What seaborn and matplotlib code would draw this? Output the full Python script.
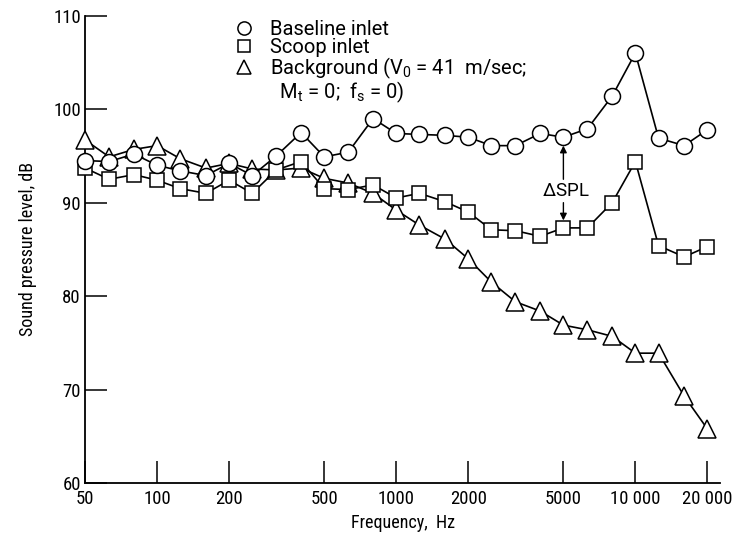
import numpy as np
import pandas as pd
import matplotlib
matplotlib.use('Agg')
import matplotlib.pyplot as plt
import seaborn as sns
from matplotlib.lines import Line2D
from matplotlib import font_manager

# one-third octave band centres, Hz
freq = [50, 63, 80, 100, 125, 160, 200, 250, 315, 400, 500, 630, 800, 1000,
        1250, 1600, 2000, 2500, 3150, 4000, 5000, 6300, 8000, 10000, 12500, 16000, 20000]

baseline = [94.5, 94.4, 95.2, 94.0, 93.4, 92.9, 94.2, 92.9, 95.0, 97.5, 94.9, 95.4, 99.0, 97.4,
            97.3, 97.2, 97.0, 96.1, 96.1, 97.4, 97.0, 97.9, 101.4, 106.0, 96.9, 96.1, 97.8]
scoop = [93.7, 92.5, 93.0, 92.4, 91.5, 91.0, 92.4, 91.0, 93.5, 94.4, 91.5, 91.4, 91.9, 90.5,
         91.0, 90.1, 89.0, 87.1, 87.0, 86.4, 87.3, 87.3, 90.0, 94.4, 85.4, 84.2, 85.3]
background = [96.7, 94.9, 95.7, 96.1, 94.7, 93.7, 94.2, 93.6, 93.5, 93.7, 92.6, 92.1, 91.0, 89.2,
              87.6, 86.1, 84.0, 81.5, 79.4, 78.4, 76.9, 76.4, 75.7, 73.9, 73.9, 69.3, 65.8]

xticks = [50, 100, 200, 500, 1000, 2000, 5000, 10000, 20000]
xticklabels = ['50', '100', '200', '500', '1000', '2000', '5000', '10 000', '20 000']
yticks = [60, 70, 80, 90, 100, 110]

df = pd.DataFrame({'freq': freq, 'baseline': baseline, 'scoop': scoop, 'background': background})

sns.set_style('ticks')

# pick a narrow sans if one is there
names = {f.name for f in font_manager.fontManager.ttflist}
fam = 'DejaVu Sans'
for cand in ['Roboto Condensed', 'Liberation Sans Narrow', 'Open Sans Condensed', 'Noto Sans Condensed']:
    if cand in names:
        fam = cand
        break
legfam = 'Roboto' if 'Roboto' in names else 'DejaVu Sans'
plt.rcParams['font.family'] = [fam, 'DejaVu Sans']
plt.rcParams['mathtext.fontset'] = 'custom'
plt.rcParams['mathtext.rm'] = legfam
plt.rcParams['mathtext.it'] = legfam
plt.rcParams['text.color'] = 'black'
plt.rcParams['axes.labelcolor'] = 'black'

fs = 13.5 if fam != 'DejaVu Sans' else 11.5

fig = plt.figure(figsize=(7.34, 5.41), dpi=100)
ax = fig.add_axes([0.116, 0.107, 0.865, 0.864])

mk = dict(color='black', linewidth=1.2, markerfacecolor='white', markeredgecolor='black',
          markeredgewidth=1.1, clip_on=False, zorder=3)
sns.lineplot(data=df, x='freq', y='background', marker='^', markersize=12.5, ax=ax, **mk)
sns.lineplot(data=df, x='freq', y='scoop', marker='s', markersize=10.5, ax=ax, **mk)
sns.lineplot(data=df, x='freq', y='baseline', marker='o', markersize=11.5, ax=ax, **mk)

ax.set_xscale('log')
ax.set_xlim(50, 22600)
ax.set_ylim(60, 110)
ax.set_xticks(xticks)
ax.set_xticklabels(xticklabels)
ax.minorticks_off()
ax.set_yticks(yticks)
ax.tick_params(direction='in', length=16, width=1.1, labelsize=fs, pad=3, colors='black')
ax.tick_params(axis='x', pad=5)
for s in ['top', 'right']:
    ax.spines[s].set_visible(False)
for s in ['left', 'bottom']:
    ax.spines[s].set_linewidth(1.3)
    ax.spines[s].set_color('black')

ax.set_xlabel('Frequency,  Hz', fontsize=13, labelpad=4)
ax.set_ylabel('Sound pressure level, dB', fontsize=13, labelpad=12)

# legend
mstyle = dict(color='none', markerfacecolor='white', markeredgecolor='black', markeredgewidth=1.1)
handles = [Line2D([], [], marker='o', markersize=9.5, **mstyle),
           Line2D([], [], marker='s', markersize=9, **mstyle),
           Line2D([], [], marker='^', markersize=10, **mstyle),
           Line2D([], [], color='none')]
labels = ['Baseline inlet', 'Scoop inlet',
          'Background (V$_0$ = 41  m/sec;',
          '  M$_t$ = 0;  f$_s$ = 0)']
ax.legend(handles, labels, loc='upper left', bbox_to_anchor=(0.218, 1.012), frameon=False,
          prop={'family': legfam, 'size': 14.5}, handlelength=1.0, handletextpad=0.8,
          labelspacing=-0.06, borderpad=0)

# delta SPL annotation at 5000 Hz
i = freq.index(5000)
arr = dict(arrowstyle='-|>', color='black', lw=1.0, mutation_scale=10, shrinkA=0, shrinkB=0)
ax.annotate('', xy=(freq[i], baseline[i] - 0.9), xytext=(freq[i], 92.5), arrowprops=arr)
ax.annotate('', xy=(freq[i], scoop[i] + 0.8), xytext=(freq[i], 90.0), arrowprops=arr)
ax.text(freq[i] * 1.02, 91.25, '$\\Delta$SPL', fontsize=13.5, family=legfam, ha='center', va='center')

fig.savefig('out.png', dpi=100)
